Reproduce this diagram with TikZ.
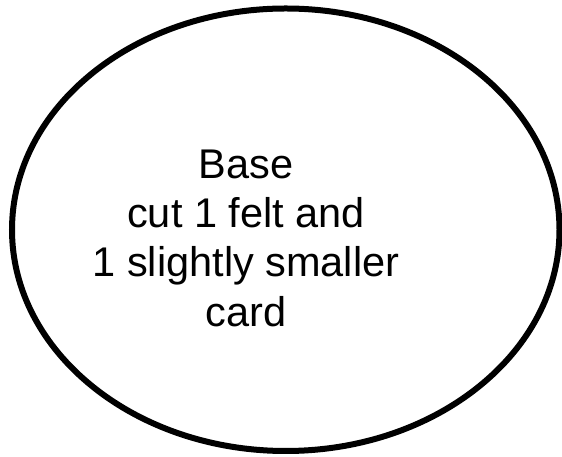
\documentclass[tikz,border=0pt]{standalone}
\usepackage{fontspec}
\setmainfont{Liberation Sans}
\usetikzlibrary{shapes.geometric}
\begin{document}
\begin{tikzpicture}[x=1pt,y=1pt,
  outline/.style={draw=black, line width=6pt, ellipse, inner sep=0pt,
    minimum width=547.5pt, minimum height=442.5pt},
  label/.style={align=center, inner sep=0pt,
    font=\fontsize{41.5pt}{49.3pt}\selectfont}]
\useasboundingbox (0,0) rectangle (562,457);
\node[outline] (base) at (285.75,227.25) {};
\node[label] (txt) at (246,218.9) {Base\\cut 1 felt and\\1 slightly smaller\\card};
\end{tikzpicture}
\end{document}
